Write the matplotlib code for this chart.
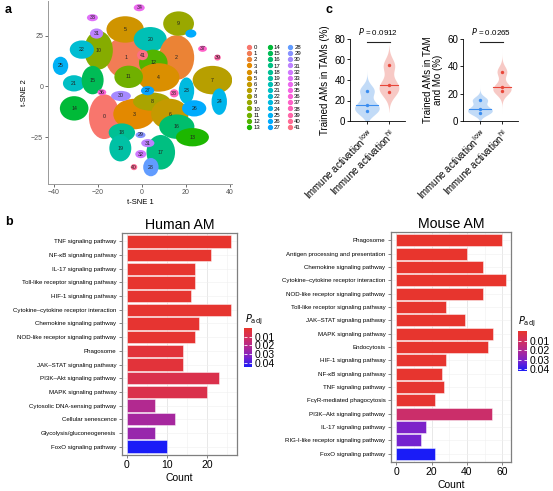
import numpy as np
import matplotlib
matplotlib.use("Agg")
import matplotlib.pyplot as plt
from matplotlib.patches import Ellipse
from matplotlib.lines import Line2D
from matplotlib.colors import LinearSegmentedColormap, Normalize
from matplotlib.cm import ScalarMappable

plt.rcParams['font.family'] = ['Liberation Sans', 'DejaVu Sans']

# ---- panel a: t-SNE clusters (centre x, centre y, width, height in t-SNE units)
blob_id = [0, 3, 8, 6, 1, 5, 20, 2, 12, 4, 11, 10, 22, 31, 33, 34, 9, 26, 25, 21, 15,
           36, 30, 27, 38, 14, 7, 23, 26, 24, 37, 39, 16, 13, 18, 19, 29, 17, 28, 40,
           31, 32, 41]
blob_x = [-17.1, -3.5, 4.5, 12.7, -7.0, -7.6, 3.8, 15.8, 5.2, 7.6, -6.0, -19.7, -27.3,
          -20.6, -22.5, -1.2, 16.7, 22.3, -37.0, -30.9, -22.4, -18.2, -9.5, 2.6, 14.7,
          -30.8, 32.1, 20.3, 23.8, 35.2, 27.6, 34.4, 15.9, 23.0, -9.1, -9.8, -0.6, 8.6,
          4.1, -3.6, 2.7, -0.5, 0.3]
blob_y = [-14.9, -13.6, -7.5, -13.6, 14.2, 28.0, 23.2, 14.2, 11.6, 4.4, 4.7, 17.8, 18.1,
          26.0, 33.8, 38.7, 30.9, 26.0, 10.1, 1.5, 3.1, -2.9, -4.7, -2.1, -3.4, -10.8,
          3.1, -2.1, -10.8, -7.5, 18.5, 14.2, -19.8, -25.0, -22.7, -30.4, -23.9, -32.4,
          -39.7, -39.7, -27.9, -33.3, 15.4]
blob_w = [14, 19, 17, 17, 19, 17, 15, 16, 13, 19, 13, 13, 11, 6, 5, 5, 14, 5, 7, 10, 10,
          4, 9, 6, 4, 13, 18, 7, 11, 7, 4, 3, 16, 15, 12, 10, 4.5, 13, 7, 3, 6, 5, 5]
blob_h = [22, 15, 9, 15, 21, 13, 12, 22, 13, 14, 11, 19, 9, 5, 3.5, 3.5, 12, 4, 9, 8, 14,
          3, 5, 4.5, 4, 12, 14, 13, 8, 13, 3, 3, 12, 9, 9, 13, 3, 17, 9, 3, 4, 4, 5]
blob_text = ['0', '3', '8', '6', '1', '5', '20', '2', '12', '4', '11', '10', '22', '31',
             '33', '34', '9', '', '25', '21', '15', '36', '30', '27', '38', '14', '7',
             '23', '26', '24', '37', '39', '16', '13', '18', '19', '29', '17', '28', '40',
             '31', '32', '41']
n_clusters = 42
tsne_xticks = [-40, -20, 0, 20, 40]
tsne_yticks = [-25, 0, 25]

# ---- panel c: trained AM proportions
c_groups = ['Immune activation$^{\\mathrm{low}}$', 'Immune activation$^{\\mathrm{hi}}$']
tam_low = [9.5, 15.3, 29.7]
tam_hi = [28.7, 35.6, 54.2]
mo_low = [6.0, 9.0, 15.4]
mo_hi = [22.0, 24.7, 36.2]
p_tam = 0.0912
p_mo = 0.0265

# ---- panel b: KEGG enrichment
human_terms = ['TNF signaling pathway', 'NF-κB signaling pathway', 'IL-17 signaling pathway',
               'Toll-like receptor signaling pathway', 'HIF-1 signaling pathway',
               'Cytokine–cytokine receptor interaction', 'Chemokine signaling pathway',
               'NOD-like receptor signaling pathway', 'Phagosome', 'JAK–STAT signaling pathway',
               'PI3K–Akt signaling pathway', 'MAPK signaling pathway',
               'Cytosolic DNA-sensing pathway', 'Cellular senescence',
               'Glycolysis/gluconeogenesis', 'FoxO signaling pathway']
human_count = [26, 21, 17, 17, 16, 26, 18, 17, 14, 14, 23, 20, 7, 12, 7, 10]
human_padj = [0.0005, 0.0006, 0.0008, 0.0008, 0.001, 0.001, 0.0012, 0.0012, 0.003, 0.003,
              0.007, 0.007, 0.021, 0.024, 0.027, 0.0446]

mouse_terms = ['Phagosome', 'Antigen processing and presentation', 'Chemokine signaling pathway',
               'Cytokine–cytokine receptor interaction', 'NOD-like receptor signaling pathway',
               'Toll-like receptor signaling pathway', 'JAK–STAT signaling pathway',
               'MAPK signaling pathway', 'Endocytosis', 'HIF-1 signaling pathway',
               'NF-κB signaling pathway', 'TNF signaling pathway', 'FcγR-mediated phagocytosis',
               'PI3K–Akt signaling pathway', 'IL-17 signaling pathway',
               'RIG-I-like receptor signaling pathway', 'FoxO signaling pathway']
mouse_count = [60, 40, 49, 62, 49, 28, 39, 55, 52, 28, 26, 27, 22, 54, 17, 14, 22]
mouse_padj = [0.0002, 0.0003, 0.0003, 0.0003, 0.0004, 0.0005, 0.0005, 0.0005, 0.0006,
              0.0008, 0.0008, 0.0009, 0.001, 0.0126, 0.031, 0.032, 0.042]


def hue_pal(n, l=65, c=100):
    # ggplot2 default hue palette (polar Luv -> sRGB)
    hues = np.linspace(15, 375, n + 1)[:-1]
    Xn, Yn, Zn = 95.047, 100.0, 108.883
    un = 4 * Xn / (Xn + 15 * Yn + 3 * Zn)
    vn = 9 * Yn / (Xn + 15 * Yn + 3 * Zn)
    M = np.array([[3.2404542, -1.5371385, -0.4985314],
                  [-0.9692660, 1.8760108, 0.0415560],
                  [0.0556434, -0.2040259, 1.0572252]])
    out = []
    for h in hues:
        u = c * np.cos(np.radians(h))
        v = c * np.sin(np.radians(h))
        Y = Yn * ((l + 16) / 116) ** 3
        up = u / (13 * l) + un
        vp = v / (13 * l) + vn
        X = 9 * Y * up / (4 * vp)
        Z = -X / 3 - 5 * Y + 3 * Y / vp
        rgb = M @ (np.array([X, Y, Z]) / 100)
        rgb = np.where(rgb <= 0.0031308, 12.92 * rgb, 1.055 * np.clip(rgb, 0, None) ** (1 / 2.4) - 0.055)
        out.append(tuple(np.clip(rgb, 0, 1)))
    return out


W, H = 553, 491
fig = plt.figure(figsize=(W / 100, H / 100), dpi=100)


def box(x0, y0, x1, y1):
    return [x0 / W, 1 - y1 / H, (x1 - x0) / W, (y1 - y0) / H]


# ================= panel a =================
pal = hue_pal(n_clusters)
ax = fig.add_axes(box(48, 1, 232, 184))
for i in range(len(blob_id)):
    ax.add_patch(Ellipse((blob_x[i], blob_y[i]), blob_w[i], blob_h[i],
                         facecolor=pal[blob_id[i]], edgecolor='none'))
for i in range(len(blob_id)):
    if blob_text[i]:
        ax.text(blob_x[i], blob_y[i], blob_text[i], fontsize=3.8, ha='center', va='center',
                color='#222222')
ax.set_xlim(-42.7, 41)
ax.set_ylim(-48, 42)
ax.set_xticks(tsne_xticks)
ax.set_yticks(tsne_yticks)
ax.tick_params(labelsize=5, colors='#555555', length=2, width=0.6, pad=1.5)
for s in ['top', 'right']:
    ax.spines[s].set_visible(False)
for s in ['left', 'bottom']:
    ax.spines[s].set_color('#999999')
    ax.spines[s].set_linewidth(0.7)
ax.set_xlabel('t-SNE 1', fontsize=5.5, labelpad=2)
ax.set_ylabel('t-SNE 2', fontsize=5.5, labelpad=2)

handles = [Line2D([], [], marker='o', ls='', color=pal[k], markersize=2.8) for k in range(n_clusters)]
fig.legend(handles, [str(k) for k in range(n_clusters)], ncol=3, fontsize=4.3, frameon=False,
           loc='upper left', bbox_to_anchor=(244 / W, 1 - 42 / H), handlelength=0.8,
           handletextpad=0.35, columnspacing=1.1, labelspacing=0.16, borderpad=0)
fig.text(5 / W, 1 - 10 / H, 'a', fontsize=9, fontweight='bold', va='center')

# ================= panel c =================
blue_fill, blue_pt = '#BCD7F7', '#3A8DF0'
red_fill, red_pt = '#F7C4BF', '#E8473A'


def kde(vals, grid):
    v = np.asarray(vals, dtype=float)
    n = len(v)
    q1, q3 = np.percentile(v, [25, 75])
    bw = 0.9 * min(v.std(ddof=1), (q3 - q1) / 1.34) * n ** -0.2
    d = np.exp(-0.5 * ((grid[:, None] - v[None, :]) / bw) ** 2).sum(1) / (n * bw * np.sqrt(2 * np.pi))
    return d


def violin_panel(axv, low, hi, ymax, yticks, ylabel, pval):
    sets = [(low, blue_fill, blue_pt), (hi, red_fill, red_pt)]
    curves = []
    for vals, _, _ in sets:
        g = np.linspace(min(vals) - 20, max(vals) + 20, 300)
        curves.append((g, kde(vals, g)))
    scale = 0.56 / max(d.max() for _, d in curves)
    for pos, ((vals, fc, pc), (g, d)) in enumerate(zip(sets, curves), start=1):
        axv.fill_betweenx(g, pos - d * scale, pos + d * scale, color=fc, lw=0, alpha=0.9)
        med = np.median(vals)
        w = np.interp(med, g, d) * scale
        axv.plot([pos - w, pos + w], [med, med], color=pc, lw=0.8)
        axv.scatter([pos] * len(vals), vals, s=6, color=pc, zorder=3, lw=0)
    axv.set_xlim(0.23, 2.73)
    axv.set_ylim(0, ymax)
    axv.set_yticks(yticks)
    axv.set_xticks([1, 2])
    axv.set_xticklabels(c_groups, rotation=45, ha='right', rotation_mode='anchor', fontsize=7)
    axv.tick_params(labelsize=7, length=2, width=0.6, pad=1.5)
    axv.tick_params(axis='x', pad=2)
    for s in ['top', 'right']:
        axv.spines[s].set_visible(False)
    for s in ['left', 'bottom']:
        axv.spines[s].set_linewidth(0.6)
    axv.set_ylabel(ylabel, fontsize=7, labelpad=3, linespacing=1.05)
    yl = ymax * 0.963
    axv.plot([1.0, 2.05], [yl, yl], color='#222222', lw=0.8, clip_on=False)
    axv.text(1.52, ymax * 1.02, '$P$ = ' + f'{pval:.4f}', fontsize=5.8, ha='center',
             va='bottom', clip_on=False)


axc1 = fig.add_axes(box(350, 39, 405, 121))
violin_panel(axc1, tam_low, tam_hi, 80, [0, 20, 40, 60, 80], 'Trained AMs in TAMs (%)', p_tam)
axc2 = fig.add_axes(box(463, 39, 518, 121))
violin_panel(axc2, mo_low, mo_hi, 60, [0, 20, 40, 60], 'Trained AMs in TAM\nand Mo (%)', p_mo)
fig.text(326 / W, 1 - 10 / H, 'c', fontsize=9, fontweight='bold', va='center')

# ================= panel b =================
cmap = LinearSegmentedColormap.from_list(
    'padj', [(0, '#E8352C'), (0.25, '#D22F5F'), (0.5, '#AE2896'), (0.75, '#7A22CC'), (1, '#1A1CF7')])


def bar_panel(axb, cax, terms, counts, padj, vmax, xmax, xticks, minor, title, cbar_title_xy):
    n = len(terms)
    ypos = np.arange(n)[::-1]
    norm = Normalize(0, vmax)
    axb.barh(ypos, counts, height=0.9, color=cmap(norm(np.array(padj))),
             edgecolor=(1, 1, 1, 0.55), linewidth=0.6, zorder=2)
    axb.set_yticks(ypos)
    axb.set_yticklabels(terms, fontsize=4.4)
    axb.set_ylim(-0.62, n - 1 + 0.62)
    axb.set_xlim(-xmax * 0.045, xmax)
    axb.set_xticks(xticks)
    axb.set_xticks(minor, minor=True)
    axb.grid(True, axis='x', which='major', color='#E4E4E4', lw=0.6, zorder=0)
    axb.grid(True, axis='x', which='minor', color='#F0F0F0', lw=0.4, zorder=0)
    axb.grid(True, axis='y', which='major', color='#F0F0F0', lw=0.4, zorder=0)
    axb.tick_params(axis='x', labelsize=7.5, length=2, width=0.5, color='#555555', pad=1.5)
    axb.tick_params(axis='y', length=2, width=0.5, color='#555555', pad=2)
    axb.tick_params(which='minor', length=0)
    for s in axb.spines.values():
        s.set_color('#7F7F7F')
        s.set_linewidth(0.9)
    axb.set_xlabel('Count', fontsize=7.5, labelpad=2)
    axb.set_title(title, fontsize=10.2, pad=3)
    sm = ScalarMappable(norm=norm, cmap=cmap)
    cb = fig.colorbar(sm, cax=cax)
    cb.outline.set_visible(False)
    cax.invert_yaxis()
    cb.set_ticks([0.01, 0.02, 0.03, 0.04])
    cb.set_ticklabels(['0.01', '0.02', '0.03', '0.04'])
    cax.tick_params(direction='in', color='white', length=2, width=0.6, left=True, right=True,
                    labelsize=7.5, pad=2)
    fig.text(cbar_title_xy[0] / W, 1 - cbar_title_xy[1] / H, '$P_{\\mathrm{adj}}$',
             fontsize=7, ha='left', va='center')


axh = fig.add_axes(box(122, 233, 237, 455))
caxh = fig.add_axes(box(244, 328, 252, 367))
bar_panel(axh, caxh, human_terms, human_count, human_padj, 0.0446, 27.5, [0, 10, 20],
          [5, 15, 25], 'Human AM', (245, 320))

axm = fig.add_axes(box(391, 232, 511, 462))
caxm = fig.add_axes(box(518, 331, 527, 371))
bar_panel(axm, caxm, mouse_terms, mouse_count, mouse_padj, 0.042, 65, [0, 20, 40, 60],
          [10, 30, 50], 'Mouse AM', (518, 322))

fig.text(5 / W, 1 - 222 / H, 'b', fontsize=9, fontweight='bold', va='center')

fig.savefig('out.png', dpi=100)
